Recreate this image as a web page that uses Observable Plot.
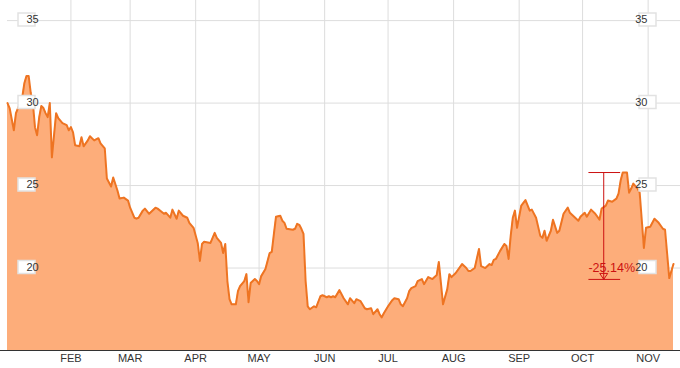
<!DOCTYPE html>
<html>
<head>
<meta charset="utf-8">
<script src="https://cdn.jsdelivr.net/npm/d3@7"></script>
<script src="https://cdn.jsdelivr.net/npm/@observablehq/plot@0.6"></script>
<style>
  html, body { margin: 0; padding: 0; background: #fff; }
  #chart svg { display: block; }
</style>
</head>
<body>
<div id="chart"></div>
<script>
// Day of year (0 = Jan 1) of each close, and the closing price
const days = [1,2,4,5,6,8,9,10,11,12,13,14,15,16,17,18,19,20,21,22,24,25,27,29,30,
  31,32,33,35,36,37,39,40,42,44,45,47,48,50,51,53,54,56,58,59,
  61,62,63,65,66,68,71,72,75,76,78,79,81,82,84,86,87,89,
  91,92,93,94,97,99,100,102,103,104,105,106,107,109,110,111,113,114,115,116,118,119,
  120,121,123,124,125,126,127,128,130,131,132,133,136,137,138,139,140,141,142,143,144,146,147,149,150,
  152,153,154,155,156,158,160,162,163,165,166,168,170,171,173,174,176,177,178,179,
  181,183,184,186,187,188,190,191,192,194,195,197,198,200,202,203,204,205,207,209,210,211,
  213,216,218,219,220,222,224,225,227,229,230,231,232,234,236,237,238,239,240,241,242,
  244,246,248,249,251,253,254,255,256,258,259,261,262,264,266,267,269,271,272,
  274,275,277,279,281,282,284,285,287,289,290,291,292,294,295,296,297,299,300,302,303,
  305,307,309,311,312,314,315,316];
const prices = [30.00,29.70,28.35,29.39,29.70,30.37,31.22,31.65,31.65,30.61,30.00,28.54,28.05,29.15,29.82,29.70,29.39,29.15,30.00,26.71,29.39,29.09,28.78,28.66,28.35,
  28.54,28.23,27.44,27.38,27.93,27.38,27.74,27.99,27.74,27.87,27.56,27.26,25.43,24.94,25.49,24.70,24.21,24.27,24.09,23.66,
  23.05,22.99,23.05,23.48,23.60,23.29,23.66,23.60,23.29,23.35,23.05,23.54,22.99,23.48,23.17,23.05,22.74,22.44,
  21.50,20.43,21.46,21.59,21.52,22.13,21.83,21.52,20.91,21.46,19.21,18.11,17.80,17.80,18.60,18.90,19.21,19.63,17.93,19.09,19.33,19.21,
  19.02,19.51,19.94,20.43,20.91,20.98,22.07,23.11,23.17,22.87,22.74,22.38,22.32,22.38,22.68,22.62,22.38,22.07,19.21,17.68,17.50,17.68,17.62,18.29,18.35,
  18.23,18.29,18.23,18.29,18.23,18.66,18.17,17.80,18.17,17.87,18.11,17.99,17.56,17.50,17.56,17.20,17.50,17.20,17.01,17.26,
  17.68,18.05,18.17,18.11,17.80,17.68,18.17,18.60,18.78,18.90,19.21,19.33,19.02,19.45,19.33,19.45,19.57,20.37,17.80,18.72,19.63,19.45,
  19.70,20.24,20.00,19.82,19.82,20.00,21.16,20.12,20.00,20.24,20.18,20.49,20.55,21.04,21.46,21.34,20.55,21.95,23.05,23.48,22.44,
  23.78,24.12,23.48,23.54,23.05,21.95,21.83,22.26,21.65,22.26,22.93,22.13,22.26,23.29,23.66,23.35,23.11,22.87,23.11,
  23.35,23.11,23.54,23.29,22.93,23.60,23.78,24.09,24.02,24.21,24.51,25.30,25.79,25.79,24.57,24.82,25.12,24.82,24.57,21.22,22.44,
  22.50,22.99,22.74,22.38,22.32,19.39,19.82,20.24];

const monthLabels = ["FEB","MAR","APR","MAY","JUN","JUL","AUG","SEP","OCT","NOV"];
const yTicks = [20, 25, 30, 35];
const yMin = 15, yMax = 36.22;

// Drawdown annotation
const annoDay = 283, annoFromDay = 276, annoToDay = 291;
const annoHigh = 25.79, annoLow = 19.31;
const annoLabel = "-25.14%";

const base = Date.UTC(2013, 0, 1);
const toDate = d => new Date(base + d * 864e5);
const data = days.map((d, i) => ({date: toDate(d), value: prices[i]}));
const monthTicks = d3.utcMonths(new Date(Date.UTC(2013, 1, 1)), new Date(Date.UTC(2013, 10, 2)));

const orange = "#ee7422";
const peach = "#fdad7a";
const grid = "#dddddd";
const red = "#cc1111";

const boxSymbol = {draw(ctx) { ctx.moveTo(-8.5, -6.5); ctx.lineTo(8.5, -6.5); ctx.lineTo(8.5, 6.5); ctx.lineTo(-8.5, 6.5); ctx.closePath(); }};
const downTri = {draw(ctx) { ctx.moveTo(-4, -6); ctx.lineTo(4, -6); ctx.lineTo(0, 0); ctx.closePath(); }};

const chart = Plot.plot({
  width: 680,
  height: 368,
  marginLeft: 0,
  marginRight: 0,
  marginTop: 0,
  marginBottom: 18,
  style: {fontFamily: "'Liberation Sans', Arial, sans-serif", background: "#fff", color: "#333"},
  x: {type: "utc", domain: [data[0].date, data[data.length - 1].date], insetLeft: 7, insetRight: 7, axis: null},
  y: {domain: [yMin, yMax], axis: null},
  marks: [
    Plot.ruleX(monthTicks, {stroke: grid, strokeWidth: 1}),
    Plot.ruleY(yTicks, {stroke: grid, strokeWidth: 1, insetLeft: 7}),
    Plot.areaY(data, {x: "date", y1: yMin, y2: "value", fill: peach}),
    Plot.lineY(data, {x: "date", y: "value", stroke: orange, strokeWidth: 2, strokeLinejoin: "round"}),
    Plot.ruleY([yMin], {stroke: "#333", strokeWidth: 1}),
    Plot.axisX(monthTicks, {tickSize: 0, tickPadding: 4, fontSize: 11, fill: "#333",
      tickFormat: d => monthLabels[d.getUTCMonth() - 1]}),
    // value labels in boxes, left and right
    Plot.dot(yTicks, {y: d => d, frameAnchor: "left", dx: 26, dy: -1, symbol: boxSymbol, fill: "#fff", stroke: "#e2e2e2"}),
    Plot.text(yTicks, {y: d => d, frameAnchor: "left", dx: 26, dy: -1, text: d => String(d), fontSize: 11, fill: "#333"}),
    Plot.dot(yTicks, {y: d => d, frameAnchor: "right", dx: -33, dy: -1, symbol: boxSymbol, fill: "#fff", stroke: "#e2e2e2"}),
    Plot.text(yTicks, {y: d => d, frameAnchor: "right", dx: -33, dy: -1, text: d => String(d), fontSize: 11, fill: "#333"}),
    // annotation
    Plot.ruleX([annoDay], {x: toDate, y1: annoHigh, y2: annoLow, stroke: red, strokeWidth: 1}),
    Plot.ruleY([annoHigh, annoLow], {y: d => d, x1: toDate(annoFromDay), x2: toDate(annoToDay), stroke: red, strokeWidth: 1}),
    Plot.dot([annoLow], {x: toDate(annoDay), y: d => d, symbol: downTri, fill: "none", stroke: red, strokeWidth: 1}),
    Plot.text([annoLabel], {x: toDate(annoDay), y: annoLow, text: d => d, dx: 8, dy: -11, fontSize: 12.5, fill: red})
  ]
});
document.getElementById("chart").appendChild(chart);
</script>
</body>
</html>
